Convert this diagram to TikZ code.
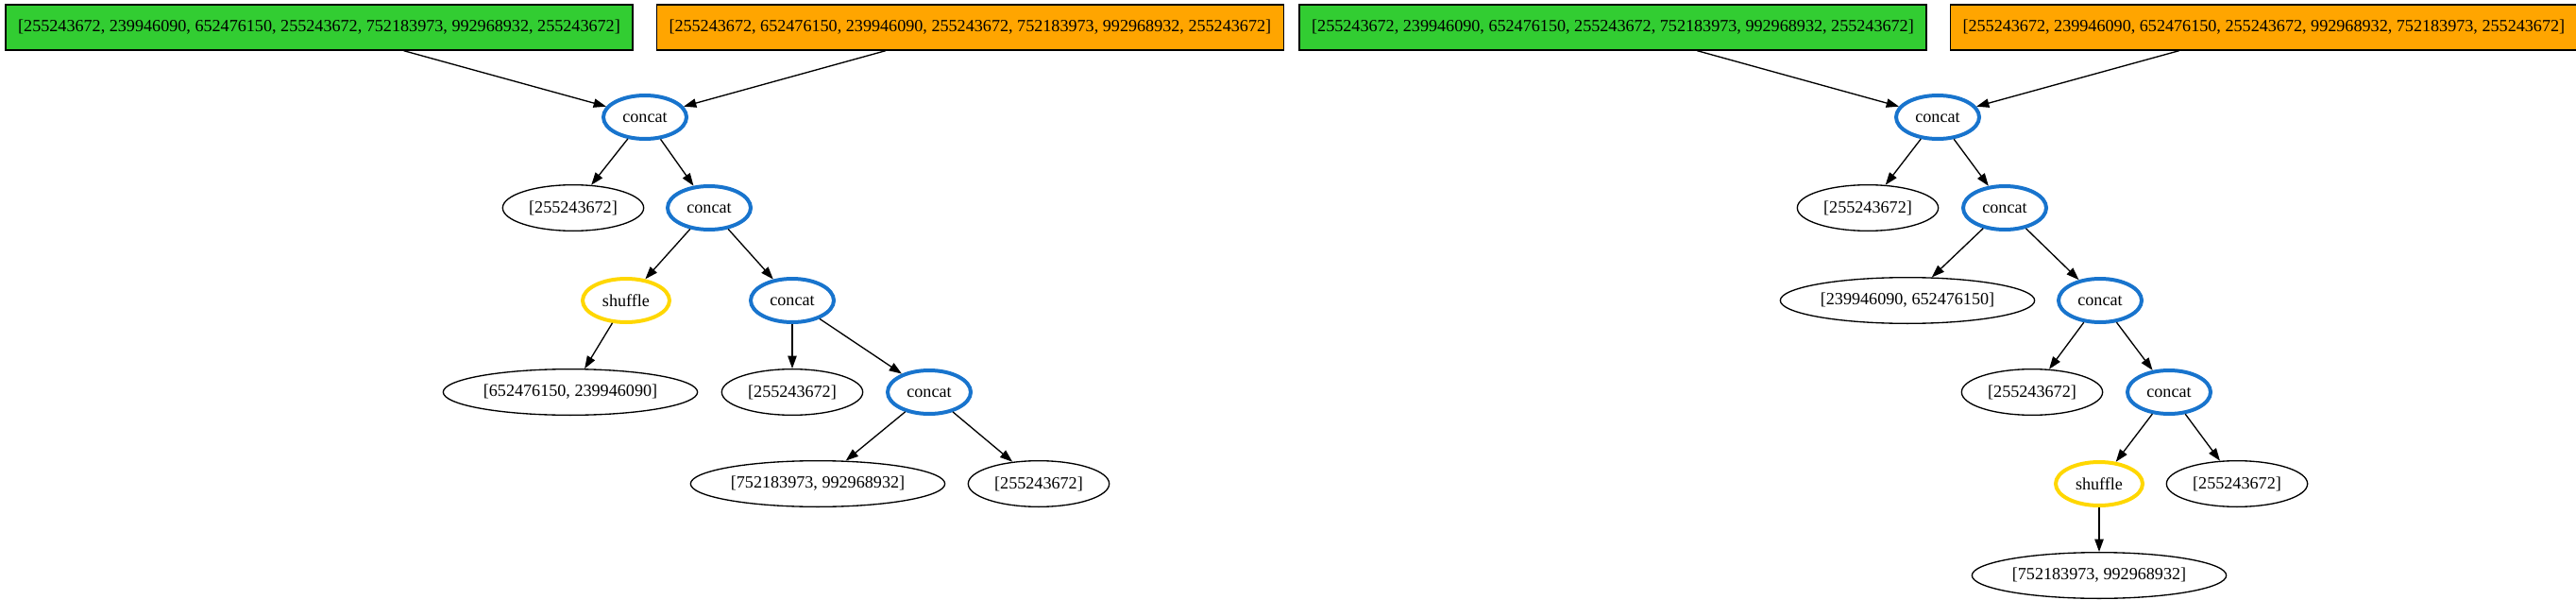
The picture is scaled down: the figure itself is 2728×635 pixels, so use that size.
\documentclass[tikz,border=0pt]{standalone}
\usepackage{fontspec}
\setmainfont{Liberation Serif}
\usepackage{xcolor}
\usepackage{tikz}
\usetikzlibrary{shapes.geometric, arrows.meta, positioning}
\definecolor{boxgreen}{HTML}{32CD32}
\definecolor{boxorange}{HTML}{FFA500}
\definecolor{opblue}{HTML}{1874CD}
\definecolor{opgold}{HTML}{FFD700}

\begin{document}
\begin{tikzpicture}[x=0.75pt, y=-0.75pt, node distance=18pt, font=\fontsize{13.6}{16}\selectfont]
    % Styles
    \tikzstyle{inbox} = [rectangle, draw, line width=1pt, minimum width=498pt, minimum height=36pt, inner sep=2pt]
    \tikzstyle{concatop} = [ellipse, draw=opblue, line width=3pt, minimum width=66pt, minimum height=34.5pt, inner sep=0pt]
    \tikzstyle{shuffleop} = [ellipse, draw=opgold, line width=3pt, minimum width=69pt, minimum height=34.5pt, inner sep=0pt]
    \tikzstyle{chunk} = [ellipse, draw, line width=1pt, minimum width=112pt, minimum height=36.5pt, inner sep=0pt]
    \tikzstyle{wide} = [minimum width=202pt]
    \tikzstyle{line} = [draw, line width=1pt, -{Triangle[length=10pt, width=7pt]}]

    \useasboundingbox (0,0) rectangle (2728,635);

    % Nodes, left tree
    \node [inbox, fill=boxgreen] (srcA) at (338,29) {[255243672, 239946090, 652476150, 255243672, 752183973, 992968932, 255243672]};
    \node [inbox, fill=boxorange, right=18pt of srcA] (dstA) {[255243672, 652476150, 239946090, 255243672, 752183973, 992968932, 255243672]};
    \node [concatop] (catA1) at (683,124) {concat};
    \node [chunk] (valA1) at (607,220) {[255243672]};
    \node [concatop] (catA2) at (751,220) {concat};
    \node [shuffleop] (shufA) at (663,318) {shuffle};
    \node [concatop] (catA3) at (839,318) {concat};
    \node [chunk, wide] (valA2) at (604,415) {[652476150, 239946090]};
    \node [chunk] (valA3) at (839,415) {[255243672]};
    \node [concatop] (catA4) at (984,415) {concat};
    \node [chunk, wide] (valA4) at (866,512) {[752183973, 992968932]};
    \node [chunk] (valA5) at (1100,512) {[255243672]};

    % Nodes, right tree
    \node [inbox, fill=boxgreen] (srcB) at (1708,29) {[255243672, 239946090, 652476150, 255243672, 752183973, 992968932, 255243672]};
    \node [inbox, fill=boxorange, right=18pt of srcB] (dstB) {[255243672, 239946090, 652476150, 255243672, 992968932, 752183973, 255243672]};
    \node [concatop] (catB1) at (2052,124) {concat};
    \node [chunk] (valB1) at (1978,220) {[255243672]};
    \node [concatop] (catB2) at (2123,220) {concat};
    \node [chunk, wide] (valB2) at (2020,318) {[239946090, 652476150]};
    \node [concatop] (catB3) at (2224,318) {concat};
    \node [chunk] (valB3) at (2152,415) {[255243672]};
    \node [concatop] (catB4) at (2297,415) {concat};
    \node [shuffleop] (shufB) at (2223,512) {shuffle};
    \node [chunk] (valB4) at (2369,512) {[255243672]};
    \node [chunk, wide] (valB5) at (2223,609) {[752183973, 992968932]};

    % Paths, left tree
    \path [line] (srcA) -- (catA1);
    \path [line] (dstA) -- (catA1);
    \path [line] (catA1) -- (valA1);
    \path [line] (catA1) -- (catA2);
    \path [line] (catA2) -- (shufA);
    \path [line] (catA2) -- (catA3);
    \path [line] (shufA) -- (valA2);
    \path [line] (catA3) -- (valA3);
    \path [line] (catA3) -- (catA4);
    \path [line] (catA4) -- (valA4);
    \path [line] (catA4) -- (valA5);

    % Paths, right tree
    \path [line] (srcB) -- (catB1);
    \path [line] (dstB) -- (catB1);
    \path [line] (catB1) -- (valB1);
    \path [line] (catB1) -- (catB2);
    \path [line] (catB2) -- (valB2);
    \path [line] (catB2) -- (catB3);
    \path [line] (catB3) -- (valB3);
    \path [line] (catB3) -- (catB4);
    \path [line] (catB4) -- (shufB);
    \path [line] (catB4) -- (valB4);
    \path [line] (shufB) -- (valB5);
\end{tikzpicture}
\end{document}
